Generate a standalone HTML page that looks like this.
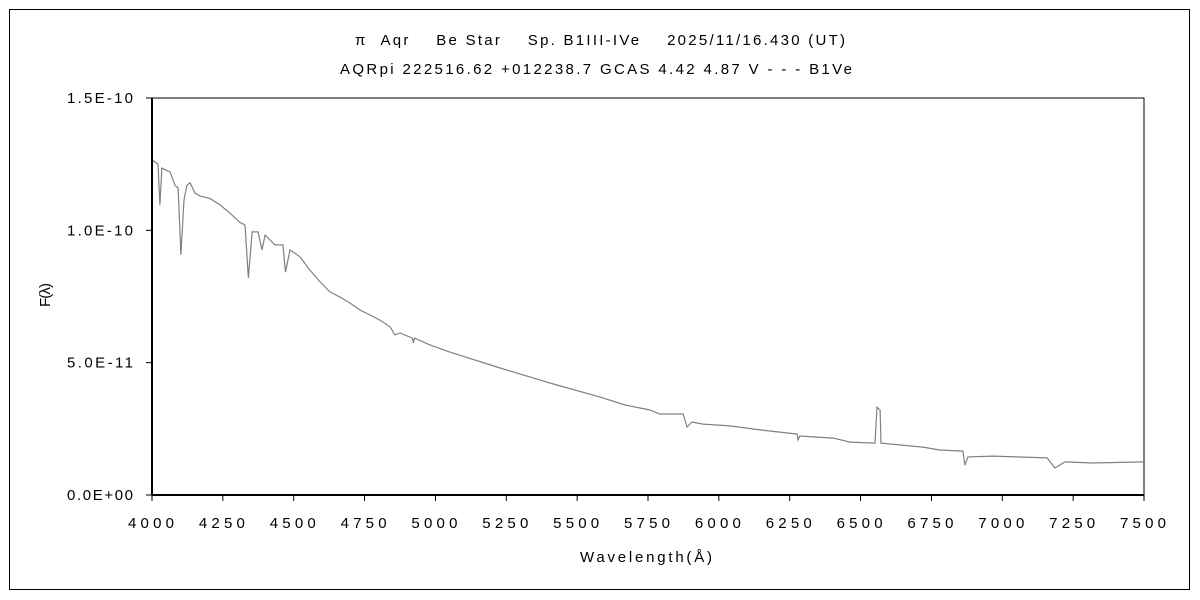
<!DOCTYPE html>
<html><head><meta charset="utf-8"><style>
html,body{margin:0;padding:0;background:#fff;}
svg{display:block;font-family:"Liberation Sans","Noto Sans CJK JP",sans-serif;}
text{white-space:pre;}
</style></head><body>
<svg id="chart" width="1200" height="600" xmlns="http://www.w3.org/2000/svg">
<rect x="9.5" y="9.5" width="1180" height="580" fill="#fff" stroke="#000" stroke-width="1"/>
<text x="355" y="45" font-size="15" textLength="490" lengthAdjust="spacing" xml:space="preserve">π  Aqr    Be Star    Sp. B1III-IVe    2025/11/16.430 (UT)</text>
<text x="340" y="74" font-size="15" textLength="512" lengthAdjust="spacing" xml:space="preserve">AQRpi 222516.62 +012238.7 GCAS 4.42 4.87 V - - - B1Ve</text>
<rect x="152" y="98" width="992" height="397" fill="none" stroke="#000" stroke-width="1"/>
<g id="yticks"></g><g id="xticks"></g>
<polyline id="series" fill="none" stroke="#808080" stroke-width="1.2"/>
<line x1="152" y1="98" x2="152" y2="495" stroke="#000" stroke-width="2"/>
<line x1="152" y1="495" x2="1144" y2="495" stroke="#000" stroke-width="2"/>
<text transform="translate(50,307) rotate(-90)" font-size="15" textLength="24" lengthAdjust="spacing">F(λ)</text>
<text x="580" y="562" font-size="15" textLength="132" lengthAdjust="spacing">Wavelength(Å)</text>
</svg>
<script>
const wavelengths=[4000,4021,4028,4035,4064,4081,4092,4102,4113,4123,4134,4152,4169,4205,4240,4275,4310,4328,4340,4353,4374,4388,4399,4434,4462,4471,4487,4522,4557,4593,4628,4663,4699,4734,4769,4804,4840,4857,4875,4918,4922,4926,4981,5051,5228,5404,5581,5669,5757,5792,5874,5888,5905,5944,6039,6145,6276,6279,6286,6403,6463,6551,6558,6569,6572,6593,6720,6780,6861,6868,6879,6967,7158,7186,7221,7320,7500];
const fluxes=[12.66,12.5,10.96,12.35,12.2,11.7,11.6,9.07,11.15,11.7,11.8,11.4,11.3,11.2,10.96,10.65,10.3,10.2,8.2,9.94,9.94,9.26,9.82,9.45,9.45,8.42,9.26,9.0,8.5,8.05,7.67,7.48,7.25,6.99,6.8,6.61,6.35,6.05,6.12,5.93,5.75,5.93,5.67,5.4,4.8,4.23,3.70,3.4,3.21,3.06,3.06,2.57,2.76,2.68,2.61,2.46,2.30,2.08,2.23,2.15,2.0,1.96,3.32,3.2,1.96,1.94,1.81,1.70,1.66,1.13,1.44,1.47,1.40,1.02,1.25,1.21,1.25];
const xTickLabels=["4000","4250","4500","4750","5000","5250","5500","5750","6000","6250","6500","6750","7000","7250","7500"];
const yTickValues=[0,5,10,15];
const yTickLabels=["0.0E+00","5.0E-11","1.0E-10","1.5E-10"];
const X0=152,X1=1144,Y0=495,Y1=98;
const xs=w=>X0+(w-4000)/3500*(X1-X0);
const ys=f=>Y0-f/15*(Y0-Y1);
const NS="http://www.w3.org/2000/svg";
const yt=document.getElementById('yticks'),xt=document.getElementById('xticks');
yTickValues.forEach((v,i)=>{
 const y=ys(v);
 const l=document.createElementNS(NS,'line');
 l.setAttribute('x1',146);l.setAttribute('x2',152);l.setAttribute('y1',y);l.setAttribute('y2',y);l.setAttribute('stroke','#000');
 
 
 yt.appendChild(l);
 const t=document.createElementNS(NS,'text');
 t.setAttribute('x',67);t.setAttribute('y',y+5);t.setAttribute('font-size','15');
 t.setAttribute('textLength','66');t.setAttribute('lengthAdjust','spacing');
 t.textContent=yTickLabels[i];
 
 
 yt.appendChild(t);
});
xTickLabels.forEach(s=>{
 const x=xs(+s);
 const l=document.createElementNS(NS,'line');
 l.setAttribute('x1',x);l.setAttribute('x2',x);l.setAttribute('y1',495);l.setAttribute('y2',501);l.setAttribute('stroke','#000');
 
 
 xt.appendChild(l);
 const t=document.createElementNS(NS,'text');
 t.setAttribute('x',x-24);t.setAttribute('y',528);t.setAttribute('font-size','15');
 t.setAttribute('textLength','46');t.setAttribute('lengthAdjust','spacing');
 t.textContent=s;
 
 
 xt.appendChild(t);
});
document.getElementById('series').setAttribute('points',wavelengths.map((w,i)=>xs(w).toFixed(1)+','+ys(fluxes[i]).toFixed(1)).join(' '));
</script>
</body></html>
